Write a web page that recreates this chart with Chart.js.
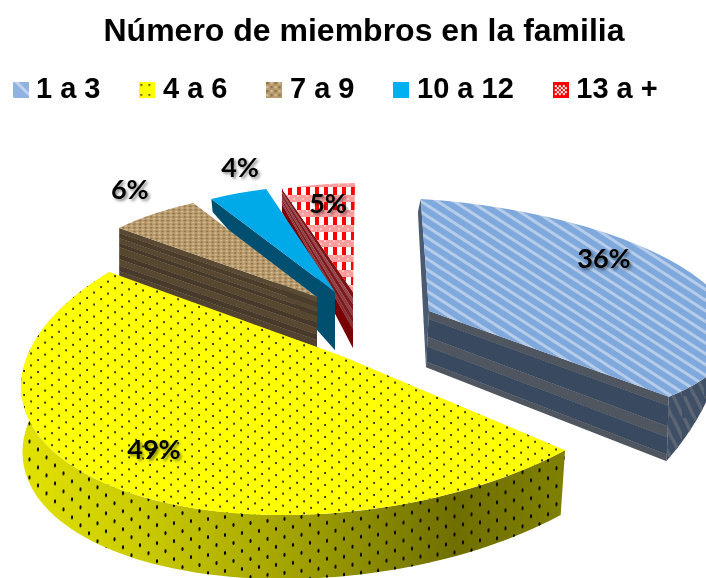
<!DOCTYPE html>
<html><head><meta charset="utf-8">
<style>html,body{margin:0;padding:0;background:#fff}canvas{display:block}</style>
<script src="https://cdn.jsdelivr.net/npm/chart.js@4"></script></head>
<body><canvas id="c" width="706" height="578"></canvas>
<script>
const chartTitle = 'Número de miembros en la familia';
const categories = ['1 a 3', '4 a 6', '7 a 9', '10 a 12', '13 a +'];
const percentages = [36, 49, 6, 4, 5];

function tile(w, h, paint) {
  const c = document.createElement('canvas'); c.width = w; c.height = h;
  paint(c.getContext('2d'), w, h); return c;
}
const paintBlue = (g, w, h) => { g.fillStyle = '#7fa8dc'; g.fillRect(0, 0, w, h); g.fillStyle = '#b6cce9'; g.fillRect(0, 1, w, 3); };
const paintYellow = (g, w, h) => {
  g.fillStyle = '#ffff00'; g.fillRect(0, 0, w, h); g.fillStyle = '#111';
  [[.22, .25], [.72, .75]].forEach(p => { g.beginPath(); g.arc(p[0] * w, p[1] * h, 1.05, 0, 7); g.fill(); });
};
const paintBurlap = (g, w, h) => {
  g.fillStyle = '#b89a6c'; g.fillRect(0, 0, w, h);
  for (let y = 0; y < h; y += 4) for (let x = 0; x < w; x += 4) {
    g.fillStyle = (x + y) % 8 ? '#d3bd94' : '#8f7347'; g.fillRect(x, y, 2.2, 2.2);
  }
};
const paintRed = (g, w, h) => {
  g.fillStyle = '#ff9c9c'; g.fillRect(0, 0, w, h);
  g.fillStyle = '#ffffff'; g.fillRect(0, 7, w, 8);
  g.fillStyle = '#ff0000'; g.fillRect(0, 7, 4, 8);
  g.fillStyle = '#ffc4c4'; g.fillRect(0, 0, 2, 2); g.fillRect(5, 3, 2, 2);
};
const surface = { blue: tile(20, 9, paintBlue), yellow: tile(14, 12, paintYellow), burlap: tile(16, 16, paintBurlap), red: tile(9, 15, paintRed) };
const ctx0 = document.getElementById('c').getContext('2d');
const rot = a => new DOMMatrix().rotate(a);
const fills = [
  { pat: ctx0.createPattern(surface.blue, 'repeat'), base: rot(33) },
  { pat: ctx0.createPattern(surface.yellow, 'repeat'), base: new DOMMatrix([1, 0.08, 0, 1, 0, 0]) },
  { pat: ctx0.createPattern(surface.burlap, 'repeat'), base: new DOMMatrix([.7, .45, -.7, .45, 0, 0]) },
  { pat: '#00a9e8' },
  { pat: ctx0.createPattern(surface.red, 'repeat'), base: new DOMMatrix() }
];
const swatches = [
  tile(16, 16, (g, w, h) => { g.fillStyle = '#8fb2e0'; g.fillRect(0, 0, w, h); g.strokeStyle = '#c3d4ee'; g.lineWidth = 3; g.beginPath(); g.moveTo(2, -2); g.lineTo(20, 16); g.moveTo(-6, 10); g.lineTo(4, 20); g.stroke(); }),
  tile(16, 16, (g, w, h) => { g.fillStyle = '#ffff00'; g.fillRect(0, 0, w, h); g.fillStyle = '#111'; [[1, 2], [9, 2], [1, 12], [9, 12]].forEach(p => g.fillRect(p[0], p[1], 1.6, 1.6)); }),
  tile(16, 16, paintBurlap),
  tile(16, 16, (g, w, h) => { g.fillStyle = '#00b0f0'; g.fillRect(0, 0, w, h); }),
  tile(16, 16, (g, w, h) => { g.fillStyle = '#ff0000'; g.fillRect(0, 0, w, h); g.fillStyle = '#fff'; for (let y = 3; y < 13; y += 2) for (let x = 2 + (y % 4 === 1 ? 2 : 0); x < 14; x += 4) g.fillRect(x, y, 2, 2); })
];

/* Tilted, exploded view of every slice: unit circle -> page (matrix [a,b,c,d]) */
const views = [
  { apex: [429, 311], m: [304, -17.2, 28, 110], apex2: [426, 367], m2: [300, -10, -40, 222], mEdge: [306, -17.6, 7, 155], outerFrom: .7 },
  { apex: [344.4, 357], m: [316, -68, 3.6, 158], apex2: [341, 424], m2: [312, -64, 3, 155], outerFrom: 0 },
  { apex: [317, 297], m: [254, -37.5, 17, 105], apex2: [317, 347], m2: [254, -37.5, 17, 105] },
  { apex: [335, 292], m: [238, -25.4, 14.6, 105.6], apex2: [335, 350], m2: [234, -24, 15, 162] },
  { apex: [353, 292], m: [235, -21.7, 6.9, 108.8], apex2: [353, 348], m2: [235, -21.7, 21, 138.7] }
];
const paintOrder = [4, 3, 2, 0, 1];
const labelSpots = [[.358, .815], [.53, .764], [.657, 1.234], [.84, 1.218], [.56, .817]];
const blueBands = [[0, .14, '#4f5660'], [.14, .46, '#39495f'], [.46, .63, '#4f5660'], [.63, .9, '#39495f'], [.9, 1, '#4f5660']];
const brownBands = [[0, .1, '#5a4a34'], [.1, .2, '#4b3d29'], [.2, .3, '#584831'], [.3, .38, '#483a2a'], [.38, .52, '#57472f'], [.52, .62, '#46392a'], [.62, .75, '#584831'], [.75, .86, '#473a2a'], [.86, 1, '#524330']];
const redBands = [[0, .12, '#7c1216'], [.12, .22, '#96484a'], [.22, .34, '#7e1a1e'], [.34, .44, '#8f4043'], [.44, .56, '#7e1a1e'], [.56, .66, '#8a3336'], [.66, 1, '#780004']];
const edgeWalls = [
  { start: [[0, 1, '#4a5a70']], end: blueBands },
  {},
  { start: brownBands },
  { start: [[0, 1, '#004f70']] },
  { start: redBands }
];

const pt = (A, m, phi) => [A[0] + m[0] * Math.cos(phi) + m[1] * Math.sin(phi), A[1] + m[2] * Math.cos(phi) + m[3] * Math.sin(phi)];
const mix = (p, q, t) => [p[0] + (q[0] - p[0]) * t, p[1] + (q[1] - p[1]) * t];

function poly(g, pts, fill) {
  g.beginPath(); pts.forEach((p, i) => i ? g.lineTo(p[0], p[1]) : g.moveTo(p[0], p[1])); g.closePath();
  g.fillStyle = fill; g.fill();
}
function drawEdge(g, v, phi, bands, m2) {
  const a = v.apex, b = pt(v.apex, v.m, phi), a2 = v.apex2, b2 = pt(v.apex2, m2, phi);
  bands.forEach(([t0, t1, col]) => {
    poly(g, [mix(a, a2, t0), mix(b, b2, t0), mix(b, b2, t1 + .005), mix(a, a2, t1 + .005)], col);
  });
}
function outerPts(v, s, e) {
  const top = [], bot = [];
  for (let i = 0; i <= 80; i++) { const f = s + (e - s) * i / 80; top.push(pt(v.apex, v.m, f)); bot.push(pt(v.apex2, v.m2, f)); }
  return top.concat(bot.reverse());
}
const wallDots = ctx0.createPattern(tile(17, 18, (g) => {
  g.fillStyle = '#000';
  [[4, 4], [12.5, 13]].forEach(p => { g.beginPath(); g.ellipse(p[0], p[1], 1.1, 2, 0, 0, 7); g.fill(); });
}), 'repeat');
wallDots.setTransform(new DOMMatrix([1, -.12, 0, 1, 0, 0]));
const wallSlant = ctx0.createPattern(tile(22, 22, (g) => {
  g.strokeStyle = '#5b6573'; g.lineWidth = 3.5;
  g.beginPath(); g.moveTo(-3, -11); g.lineTo(14, 25); g.moveTo(8, -11); g.lineTo(25, 25); g.stroke();
}), 'repeat');

const slices3d = {
  id: 'slices3d',
  beforeLayout(chart) {
    const lg = chart.legend;
    if (!lg.oneRow) {
      const up = lg.update;
      lg.update = function (w, h, m) { return up.call(this, w + 400, h, m); };
      lg.oneRow = true;
    }
  },
  afterLayout(chart) {
    const lg = chart.legend;
    lg.left = -26.5; lg.right = 900; lg.top = 29.6;
  },
  beforeDatasetDraw(chart, args) {
    const g = chart.ctx, arcs = args.meta.data;
    const lin = g.createLinearGradient(20, 0, 565, 0);
    [[0, '#e2e200'], [.22, '#cbcb00'], [.5, '#a2a200'], [.8, '#6f6f00'], [1, '#808000']].forEach(s => lin.addColorStop(s[0], s[1]));
    paintOrder.forEach(i => {
      const el = arcs[i], v = views[i], w = edgeWalls[i];
      const s = el.startAngle, e = el.endAngle;
      if (v.outerFrom !== undefined) {
        const o = outerPts(v, s + (e - s) * v.outerFrom, e);
        poly(g, o, i === 1 ? lin : '#3f4f66');
        poly(g, o, i === 1 ? wallDots : wallSlant);
      }
      if (w.start) drawEdge(g, v, s, w.start, v.mEdge || v.m2);
      if (w.end) drawEdge(g, v, e, w.end, v.m2);
      const R = el.outerRadius, cx = el.x, cy = el.y, m = v.m;
      g.save();
      g.setTransform(m[0] / R, m[2] / R, m[1] / R, m[3] / R,
        v.apex[0] - (m[0] * cx + m[1] * cy) / R, v.apex[1] - (m[2] * cx + m[3] * cy) / R);
      const fill = fills[i];
      if (fill.base) fill.pat.setTransform(g.getTransform().inverse().multiply(fill.base));
      el.draw(g);
      g.restore();
    });
    return false;
  },
  afterDatasetsDraw(chart) {
    const g = chart.ctx, arcs = chart.getDatasetMeta(0).data;
    g.save();
    g.font = 'bold 27px Lato';
    g.textAlign = 'center'; g.textBaseline = 'middle';
    g.fillStyle = '#000';
    g.shadowColor = 'rgba(0,0,0,.45)'; g.shadowBlur = 3; g.shadowOffsetX = 2; g.shadowOffsetY = 2;
    arcs.forEach((el, i) => {
      const [frac, r] = labelSpots[i], phi = el.startAngle + (el.endAngle - el.startAngle) * frac;
      const p = pt(views[i].apex, views[i].m.map(x => x * r), phi);
      g.fillText(percentages[i] + '%', p[0], p[1]);
    });
    g.restore();
  }
};

new Chart(document.getElementById('c'), {
  type: 'pie',
  data: { labels: categories, datasets: [{ data: percentages, backgroundColor: fills.map(f => f.pat), borderWidth: 0 }] },
  plugins: [slices3d],
  options: {
    responsive: false, animation: false, events: [], rotation: -4.8,
    devicePixelRatio: 1,
    layout: { padding: { left: 22, top: 0 } },
    plugins: {
      tooltip: { enabled: false },
      title: { display: true, text: chartTitle, color: '#000', font: { family: '"Liberation Sans"', size: 32, weight: 'bold' }, padding: { top: 13, bottom: 8 } },
      legend: {
        position: 'top', align: 'start',
        labels: {
          color: '#000', font: { family: '"Liberation Sans"', size: 29, weight: 'bold' },
          usePointStyle: true, pointStyleWidth: 2, padding: 46,
          generateLabels: () => categories.map((t, i) => ({ text: t, pointStyle: swatches[i], fillStyle: 'transparent', strokeStyle: 'transparent', lineWidth: 0, index: i, fontColor: '#000' }))
        }
      }
    }
  }
});
</script></body></html>
